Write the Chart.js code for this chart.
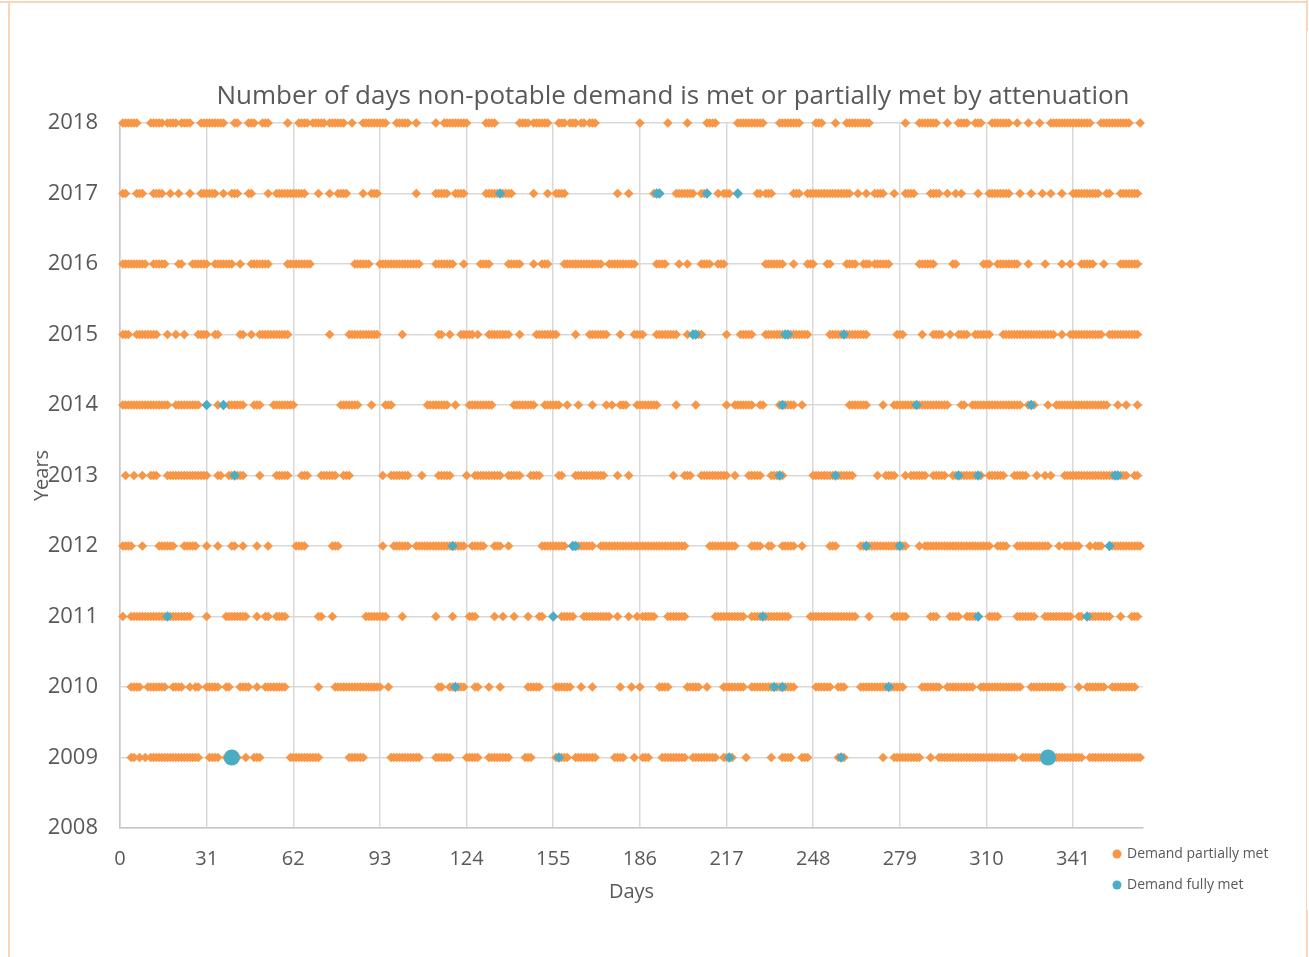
<!DOCTYPE html>
<html><head><meta charset="utf-8">
<script src="https://cdn.jsdelivr.net/npm/chart.js@4.4.1/dist/chart.umd.min.js"></script>
<style>
html,body{margin:0;padding:0;background:#fff;}
#wrap{position:relative;width:1309px;height:957px;overflow:hidden;background:#fff;}
#frame{position:absolute;left:8px;top:1px;width:1299px;height:1000px;border-style:solid;border-color:#f9d6b9;border-width:2px 1px 0 2px;box-sizing:border-box;}
#topline{position:absolute;left:0;top:1px;width:10px;height:2px;background:#f9d6b9;}
#rtop{position:absolute;left:1306px;top:0;width:2px;height:31px;background:#f9d6b9;}
#rbot{position:absolute;left:1306px;top:910px;width:2px;height:47px;background:#f9d6b9;}
canvas{position:absolute;left:0;top:0;}
</style></head><body>
<div id="wrap"><div id="frame"></div><div id="topline"></div><div id="rtop"></div><div id="rbot"></div><canvas id="c" width="1309" height="957"></canvas></div>
<script>
const chartTitle = 'Number of days non-potable demand is met or partially met by attenuation';
const xTitle = 'Days';
const yTitle = 'Years';
const years = [2009, 2010, 2011, 2012, 2013, 2014, 2015, 2016, 2017, 2018];
const xTickValues = [0, 31, 62, 93, 124, 155, 186, 217, 248, 279, 310, 341];

// Days on which demand was partially met, per year
const partial2018 = [1,2,3,4,5,6,11,12,13,14,15,17,18,19,20,22,23,24,25,29,30,31,32,33,34,35,36,37,41,42,46,47,48,51,52,53,60,
64,65,66,67,69,70,71,72,73,75,76,77,78,79,80,83,87,88,89,90,91,92,93,94,95,99,100,101,102,103,106,113,
116,117,118,119,120,121,122,123,124,131,132,133,134,143,144,145,146,148,149,150,151,152,153,
157,158,159,161,162,163,165,166,168,169,170,186,196,203,210,211,212,213,221,222,223,224,225,226,227,228,229,230,
236,237,238,239,240,241,242,243,249,250,251,256,260,261,262,263,264,265,266,267,268,281,286,287,288,289,290,291,292,296,
300,301,302,303,306,307,308,312,313,314,315,316,317,318,321,325,329,333,334,335,336,337,338,339,340,341,342,343,344,345,346,347,
351,352,353,354,355,356,357,358,359,360,361,365];
const partial2017 = [1,2,6,7,8,12,13,14,15,18,21,25,29,30,31,32,33,34,37,40,41,42,46,47,53,56,57,58,59,60,61,62,63,64,65,66,71,75,78,79,80,81,87,90,91,92,
106,113,114,115,116,117,120,121,122,123,131,132,133,134,135,137,138,139,140,148,153,156,157,158,159,178,182,191,
199,200,201,202,203,204,205,208,209,214,216,217,218,228,229,231,232,233,241,242,243,
246,247,248,249,250,251,252,253,254,255,256,257,258,259,260,261,264,267,270,271,272,273,277,281,282,283,284,290,291,292,293,296,299,301,307,
311,312,313,314,315,316,317,318,322,326,330,333,337,341,342,343,344,345,346,347,348,349,350,353,354,358,359,360,361,362,363,364];
const partial2016 = [1,2,3,4,5,6,7,8,9,12,13,14,15,16,21,22,26,27,28,29,30,31,34,35,36,37,38,39,40,43,47,48,49,50,51,52,53,60,61,62,63,64,65,66,67,68,84,85,86,87,88,89,
93,94,95,96,97,98,99,100,101,102,103,104,105,106,107,113,114,115,116,117,118,119,123,129,130,131,132,139,140,141,142,143,148,151,152,153,
159,160,161,162,163,164,165,166,167,168,169,170,171,172,175,176,177,178,179,180,181,182,183,184,192,193,194,195,200,203,208,209,210,211,214,215,216,
231,232,233,234,235,236,237,241,246,247,248,253,254,260,261,262,263,266,267,268,270,271,272,273,274,275,286,287,288,289,290,291,298,299,
309,310,311,314,315,316,317,318,319,320,321,325,331,337,340,344,345,346,347,348,352,358,359,360,361,362,363,364];
const partial2015 = [1,2,3,6,7,8,9,10,11,12,13,17,20,23,28,29,30,31,34,35,43,44,47,50,51,52,53,54,55,56,57,58,59,60,75,82,83,84,85,86,87,88,89,90,91,92,101,
114,115,118,122,123,124,125,126,128,132,133,134,135,136,137,138,139,143,149,150,151,152,153,154,155,156,163,168,169,170,171,172,173,174,179,184,185,186,187,
192,193,194,195,196,197,198,199,203,207,208,217,222,223,224,225,226,231,232,233,234,235,236,237,240,241,242,243,244,245,246,
254,255,256,257,258,260,261,262,263,264,265,266,267,278,279,280,287,291,292,293,294,297,300,301,302,303,306,307,308,309,310,311,
316,317,318,319,320,321,322,323,324,325,326,327,328,329,330,331,332,333,334,337,340,341,342,343,344,345,346,347,348,349,350,351,
354,355,356,357,358,359,360,361,362,363,364];
const partial2014 = [1,2,3,4,5,6,7,8,9,10,11,12,13,14,15,16,17,20,21,22,23,24,25,26,27,28,35,39,40,41,42,43,44,48,49,50,55,56,57,58,59,60,61,62,
79,80,81,82,83,84,85,90,95,96,97,110,111,112,113,114,115,116,117,120,125,126,127,128,129,130,131,132,133,141,142,143,144,145,146,147,148,
152,153,154,155,156,157,160,164,169,174,176,179,180,181,185,186,187,188,189,190,191,192,199,206,217,220,221,222,223,224,225,226,229,230,
236,238,239,240,241,244,261,262,263,264,265,266,267,273,277,278,279,280,281,282,283,284,286,287,288,289,290,291,292,293,294,295,296,
301,302,305,306,307,308,309,310,311,312,313,314,315,316,317,318,319,320,321,322,325,327,332,
335,336,337,338,339,340,341,342,343,344,345,346,347,348,349,350,351,352,353,357,360,364];
const partial2013 = [2,5,8,11,12,13,17,18,19,20,21,22,23,24,25,26,27,28,29,30,31,35,36,39,40,42,43,44,50,56,57,58,59,60,65,66,67,72,73,74,75,76,77,80,81,82,
94,97,98,99,100,101,102,103,108,114,115,116,117,118,124,127,128,129,130,131,132,133,134,135,136,139,140,141,142,143,147,148,149,150,157,158,
163,164,165,166,167,168,169,170,171,172,173,178,182,198,202,203,204,208,209,210,211,212,213,214,215,216,217,220,225,226,227,228,229,233,234,235,237,
248,249,250,251,252,253,254,255,257,258,259,260,261,262,271,274,275,276,277,281,283,284,285,286,287,288,291,292,293,294,295,298,299,301,302,303,304,305,306,308,
311,312,313,314,315,316,320,321,322,323,324,328,331,333,338,339,340,341,342,343,344,345,346,347,348,349,350,351,352,353,354,355,358,359,360,363,364];
const partial2012 = [1,2,3,4,8,14,15,16,17,18,19,23,24,25,26,27,31,35,40,41,44,49,53,63,64,65,66,76,77,78,94,
98,99,100,101,102,103,106,107,108,109,110,111,112,113,114,115,116,117,118,120,121,122,123,126,127,128,129,130,134,135,136,139,
151,152,153,154,155,156,157,158,159,164,165,166,167,168,169,172,173,174,175,176,177,178,179,180,181,182,183,184,185,186,187,188,189,190,
191,192,193,194,195,196,197,198,199,200,201,202,211,212,213,214,215,216,217,218,219,220,226,227,228,229,232,233,237,238,239,240,241,244,254,255,256,
265,266,268,269,270,271,272,273,274,275,276,277,278,280,281,286,288,289,290,291,292,293,294,295,296,297,298,299,300,301,302,303,304,305,306,307,308,309,310,311,
314,315,316,317,321,322,323,324,325,326,327,328,329,330,331,332,336,338,339,340,341,342,343,347,349,350,351,355,356,357,358,359,360,361,362,363,364,365];
const partial2011 = [1,4,5,6,7,8,9,10,11,12,13,14,15,16,18,19,20,21,22,23,24,25,31,38,39,40,41,42,43,44,45,49,52,53,56,57,58,59,71,72,76,
88,89,90,91,92,93,94,95,101,113,119,125,126,127,134,137,141,146,150,151,158,159,160,161,162,166,167,168,169,170,171,172,173,174,175,178,182,185,
187,188,189,190,191,196,197,198,199,200,201,202,213,214,215,216,217,218,219,220,221,222,223,226,227,228,229,231,232,233,234,235,236,237,238,239,
247,248,249,250,251,252,253,254,255,256,257,258,259,260,261,262,263,268,277,278,279,280,281,290,291,292,297,298,299,300,303,304,305,306,
311,312,313,314,321,322,323,324,325,326,327,331,332,333,334,335,336,337,338,339,340,343,344,347,348,349,350,351,352,353,354,358,362,363,364];
const partial2010 = [4,5,6,7,10,11,12,13,14,15,16,19,20,21,22,25,27,28,31,32,33,34,35,38,39,43,44,45,46,49,52,53,54,55,56,57,58,59,71,
77,78,79,80,81,82,83,84,85,86,87,88,89,90,91,92,93,96,114,115,118,119,121,122,123,127,128,132,136,146,147,148,149,150,156,157,158,159,160,161,165,169,179,183,186,
193,194,195,196,203,204,205,206,207,210,216,217,218,219,220,221,222,223,226,227,228,229,230,231,232,233,235,236,238,239,240,241,249,250,251,252,253,254,257,258,259,
265,266,267,268,269,270,271,272,273,274,276,277,278,279,280,287,288,289,290,291,292,293,296,297,298,299,300,301,302,303,304,305,
308,309,310,311,312,313,314,315,316,317,318,319,320,321,322,326,327,328,329,330,331,332,333,334,335,336,337,343,346,347,348,349,350,351,352,
355,356,357,358,359,360,361,362,363];
const partial2009 = [4,5,7,9,11,12,13,14,15,16,17,18,19,20,21,22,23,24,25,26,27,28,32,33,34,35,38,39,41,42,45,48,49,50,
61,62,63,64,65,66,67,68,69,70,71,82,83,84,85,86,87,97,98,99,100,101,102,103,104,105,106,107,113,114,115,116,117,118,124,125,126,127,128,
132,133,134,135,136,137,138,139,145,146,147,156,158,159,160,163,164,165,166,167,168,169,170,177,178,179,180,184,187,188,189,
194,195,196,197,198,199,200,201,202,205,206,207,208,209,210,211,212,213,216,217,219,224,233,237,238,239,240,244,245,246,257,259,273,
277,278,279,280,281,282,283,284,285,286,290,293,294,295,296,297,298,299,300,301,302,303,304,305,306,307,308,309,310,311,312,313,314,315,316,317,318,319,320,
323,324,325,326,327,328,329,330,331,333,334,335,336,337,338,339,340,341,342,343,344,347,348,349,350,351,352,353,354,355,356,357,358,359,360,361,362,363,364,365];

// Days on which demand was fully met, per year
const fully2018 = [];
const fully2017 = [136, 192, 193, 210, 221];
const fully2016 = [];
const fully2015 = [205, 206, 238, 239, 259];
const fully2014 = [31, 37, 237, 285, 326];
const fully2013 = [41, 236, 256, 300, 307, 356, 357];
const fully2012 = [119, 162, 163, 267, 279, 354];
const fully2011 = [17, 155, 230, 307, 346];
const fully2010 = [120, 234, 237, 275];
const fully2009 = [157, 218, 258];
// Fully met points drawn with the large circle marker (2009)
const fullyLarge2009 = [40, 332];

const partialByYear = [partial2009, partial2010, partial2011, partial2012, partial2013, partial2014, partial2015, partial2016, partial2017, partial2018];
const fullyByYear = [fully2009, fully2010, fully2011, fully2012, fully2013, fully2014, fully2015, fully2016, fully2017, fully2018];

const toPoints = (lists) => years.flatMap((yr, i) => lists[i].map(d => ({ x: d, y: yr })));

const ORANGE = '#f79646';
const BLUE = '#4bacc6';
const TEXT = '#595959';
const GRID = '#d9d9d9';
const FONT = '"Open Sans", "Noto Sans", sans-serif';

const overlay = {
  id: 'overlay',
  afterDraw(chart) {
    const ctx = chart.ctx;
    const a = chart.chartArea;
    ctx.save();
    ctx.fillStyle = TEXT;
    ctx.font = '26px ' + FONT;
    ctx.textAlign = 'center';
    ctx.textBaseline = 'middle';
    ctx.fillText(chartTitle, 673, a.top - 26);
    ctx.font = '14px ' + FONT;
    ctx.textAlign = 'left';
    chart.data.datasets.filter(d => !d.hideInLegend).forEach((ds, i) => {
      const y = a.bottom + 26 + i * 31;
      const x = a.right - 26;
      ctx.fillStyle = ds.backgroundColor;
      ctx.beginPath();
      ctx.arc(x, y, 4.5, 0, Math.PI * 2);
      ctx.fill();
      ctx.fillStyle = TEXT;
      ctx.fillText(ds.label, x + 10, y);
    });
    ctx.restore();
  }
};

new Chart(document.getElementById('c'), {
  type: 'scatter',
  data: {
    datasets: [
      { label: 'Demand partially met', data: toPoints(partialByYear), backgroundColor: ORANGE, borderWidth: 0,
        pointStyle: 'rectRot', pointRadius: 4.8, order: 2, clip: false },
      { label: 'Demand fully met', data: toPoints(fullyByYear), backgroundColor: BLUE, borderWidth: 0,
        pointStyle: 'rectRot', pointRadius: 5.2, order: 1, clip: false },
      { label: 'Demand fully met', hideInLegend: true, data: fullyLarge2009.map(d => ({ x: d, y: 2009 })), backgroundColor: BLUE, borderWidth: 0,
        pointStyle: 'circle', pointRadius: 8, order: 0, clip: false }
    ]
  },
  options: {
    responsive: false,
    animation: false,
    events: [],
    layout: { padding: { top: 123, right: 166, bottom: 0, left: 0 } },
    plugins: { legend: { display: false }, title: { display: false }, tooltip: { enabled: false } },
    scales: {
      x: {
        type: 'linear', min: 0, max: 366,
        afterBuildTicks: (axis) => { axis.ticks = xTickValues.map(v => ({ value: v })); },
        afterFit: (axis) => { axis.height = 129; },
        ticks: { color: TEXT, font: { family: FONT, size: 20 }, padding: 19, maxRotation: 0, autoSkip: false, callback: v => String(v) },
        grid: { color: GRID, lineWidth: 1.5, drawTicks: false },
        border: { color: '#c8c8c8', width: 1.5 },
        title: { display: true, text: xTitle, color: TEXT, font: { family: FONT, size: 20 }, padding: { top: 0, bottom: 53 } }
      },
      y: {
        type: 'linear', min: 2008, max: 2018,
        afterFit: (axis) => { axis.width = 120; },
        ticks: { stepSize: 1, color: TEXT, font: { family: FONT, size: 22 }, padding: 22, callback: v => String(v) },
        grid: { color: GRID, lineWidth: 1.5, drawTicks: false },
        border: { color: '#c8c8c8', width: 1.5 },
        title: { display: true, text: yTitle, color: TEXT, font: { family: FONT, size: 20 }, padding: { top: 30, bottom: 0 } }
      }
    }
  },
  plugins: [overlay]
});
</script>
</body></html>
